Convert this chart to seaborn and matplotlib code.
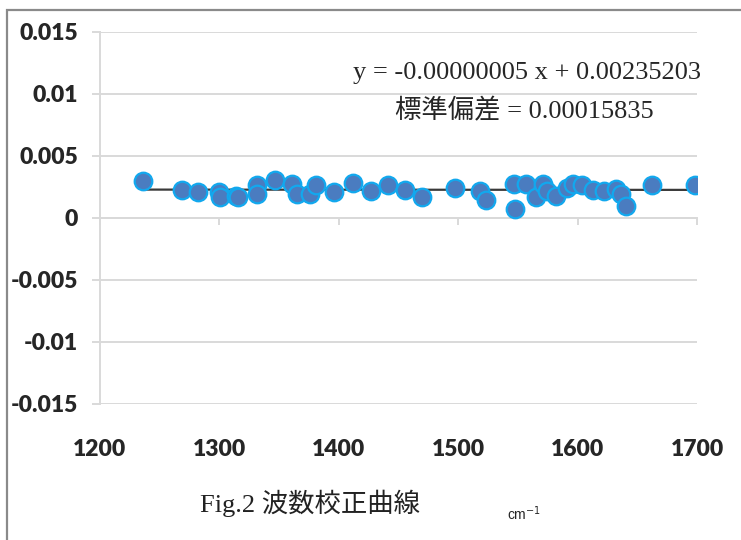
import numpy as np
import pandas as pd
import matplotlib.pyplot as plt
import seaborn as sns
from matplotlib.patches import Rectangle

# wavenumber (cm-1) and calibration deviation
wavenumber = [1236.3, 1268.4, 1281.8, 1299.7, 1300.5, 1313.9, 1315.6, 1331.2, 1331.2, 1346.6,
              1361.1, 1364.7, 1375.9, 1380.9, 1396.2, 1412.1, 1426.7, 1441.4, 1455.4, 1469.4,
              1497.3, 1518.2, 1523.3, 1547.0, 1547.6, 1556.5, 1565.2, 1570.8, 1574.0, 1581.9,
              1590.8, 1596.3, 1603.3, 1612.5, 1622.1, 1632.1, 1636.0, 1640.2, 1661.9, 1698.3]
deviation = [0.00298, 0.00223, 0.00212, 0.00210, 0.00169, 0.00181, 0.00169, 0.00266, 0.00191, 0.00306,
             0.00276, 0.00196, 0.00196, 0.00266, 0.00212, 0.00285, 0.00218, 0.00266, 0.00223, 0.00169,
             0.00244, 0.00218, 0.00143, 0.00272, 0.00075, 0.00276, 0.00169, 0.00276, 0.00218, 0.00177,
             0.00244, 0.00272, 0.00266, 0.00223, 0.00218, 0.00231, 0.00191, 0.00097, 0.00266, 0.00266]

# linear trend shown on the chart
slope = -0.00000005
intercept = 0.00235203

x_ticks = [1200, 1300, 1400, 1500, 1600, 1700]
y_ticks = [-0.015, -0.01, -0.005, 0, 0.005, 0.01, 0.015]
y_tick_labels = ['-0.015', '-0.01', '-0.005', '0', '0.005', '0.01', '0.015']

df = pd.DataFrame({'wavenumber': wavenumber, 'deviation': deviation})

sns.set_style('white')
plt.rcParams['font.family'] = ['Lato', 'DejaVu Sans']

fig = plt.figure(figsize=(7.41, 5.40), dpi=100)
ax = fig.add_axes([100 / 741, 1 - 404 / 540, 597 / 741, 372 / 540])

grid_col = '#d9d9d9'

# trend line drawn first, points above it
x_line = np.array([min(wavenumber), max(wavenumber)])
ax.plot(x_line, slope * x_line + intercept, color='#3a3a3a', lw=1.6, zorder=2)

sns.scatterplot(data=df, x='wavenumber', y='deviation', ax=ax, s=160,
                color='#4a7cc0', edgecolor='#12a8ee', linewidth=1.6, zorder=3)

ax.set_xlim(1200, 1700)
ax.set_ylim(-0.015, 0.015)
ax.set_xlabel('')
ax.set_ylabel('')

# horizontal grid + y axis line, Excel style
ax.set_yticks(y_ticks)
ax.set_yticklabels(y_tick_labels, fontsize=16.5, fontweight='heavy')
ax.yaxis.grid(True, color=grid_col, lw=1.4)
ax.tick_params(axis='y', length=6, width=1.4, color=grid_col, pad=10, direction='out', left=True)

for side in ['top', 'right']:
    ax.spines[side].set_visible(False)
ax.spines['left'].set_color(grid_col)
ax.spines['left'].set_linewidth(1.4)

# horizontal axis crosses at y = 0, labels stay at the bottom
ax.spines['bottom'].set_position(('data', 0))
ax.spines['bottom'].set_color(grid_col)
ax.spines['bottom'].set_linewidth(1.4)
ax.set_xticks(x_ticks)
ax.tick_params(axis='x', length=5, width=1.4, color=grid_col, direction='out',
               bottom=True, labelbottom=False)

sec = ax.secondary_xaxis('bottom')
sec.set_xticks(x_ticks)
sec.set_xticklabels([str(t) for t in x_ticks], fontsize=16.5, fontweight='heavy')
sec.tick_params(length=0, pad=25)
sec.spines['bottom'].set_visible(False)

serif = ['Liberation Serif', 'Noto Sans CJK JP']
fig.text(527 / 741, 1 - 73 / 540, 'y = -0.00000005 x + 0.00235203',
         ha='center', va='center', fontsize=19, family=serif)
fig.text(524 / 741, 1 - 111 / 540, '標準偏差 = 0.00015835',
         ha='center', va='center', fontsize=19, family=serif)

fig.text(310 / 741, 1 - 503 / 540, 'Fig.2 波数校正曲線', ha='center', va='center',
         fontsize=19, family=serif, color='#222222')
fig.text(524 / 741, 1 - 514 / 540, 'cm$^{-1}$', ha='center', va='center', fontsize=10,
         family=['Liberation Sans', 'DejaVu Sans'])

# outer frame of the pasted chart
fig.patches.append(Rectangle((7 / 741, -0.1), 1.2, 1.1 - 10 / 540, transform=fig.transFigure,
                             fill=False, edgecolor='#8a8a8a', lw=1.6))

fig.savefig('out.png', dpi=100)
